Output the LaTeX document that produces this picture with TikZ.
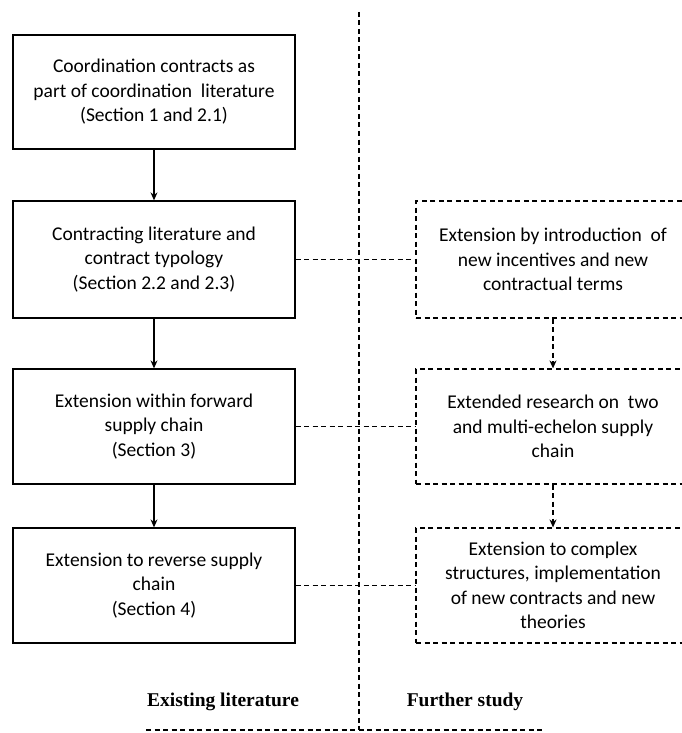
\documentclass[tikz,border=0pt]{standalone}
\usepackage{fontspec}
\setmainfont{Carlito}
\newfontfamily\labfont{Liberation Serif}
\usetikzlibrary{arrows.meta}
\begin{document}
\begin{tikzpicture}[x=1pt,y=-1pt,
  box/.style={draw, line width=1.3pt, minimum width=282pt, align=center,
    inner sep=0pt, font=\fontsize{19.5}{24.5}\selectfont},
  fbox/.style={draw, dashed, dash pattern=on 5pt off 3.5pt, line width=1.2pt,
    minimum width=274pt, align=center, inner sep=0pt,
    font=\fontsize{19.5}{24.5}\selectfont},
  arr/.style={-{Stealth[length=8pt,width=7pt]}, line width=1.1pt},
  darr/.style={-{Stealth[length=8pt,width=7pt]}, line width=1.2pt, dash pattern=on 5pt off 3.5pt},
  dline/.style={line width=1.2pt, dash pattern=on 5pt off 3.5pt},
  lab/.style={font=\labfont\bfseries\fontsize{19.5}{22}\selectfont}]
\clip (0,0) rectangle (682,733);
\fill[white] (0,0) rectangle (682,733);
\node[box, minimum height=114pt] (b1) at (154,92) {Coordination contracts as\\part of coordination\ \ literature\\(Section 1 and 2.1)};
\node[box, minimum height=117pt] (b2) at (154,259.5) {Contracting literature and\\contract typology\\(Section 2.2 and 2.3)};
\node[box, minimum height=115pt] (b3) at (154,426.5) {Extension within forward\\supply chain\\(Section 3)};
\node[box, minimum height=115pt] (b4) at (154,585.5) {Extension to reverse supply\\chain\\(Section 4)};
\node[fbox, minimum height=117pt] (r2) at (553,259.5) {Extension by introduction\ \ of\\new incentives and new\\contractual terms};
\node[fbox, minimum height=115pt] (r3) at (553,426.5) {Extended research on\ \ two\\and multi-echelon supply\\chain};
\node[fbox, minimum height=115pt] (r4) at (553,585.5) {Extension to complex\\structures, implementation\\of new contracts and new\\theories};
\draw[arr] (b1) -- (b2);
\draw[arr] (b2) -- (b3);
\draw[arr] (b3) -- (b4);
\draw[darr] (r2) -- (r3);
\draw[darr] (r3) -- (r4);
\draw[dline] (b2.east) -- (r2.west);
\draw[dline] (b3.east) -- (r3.west);
\draw[dline] (b4.east) -- (r4.west);
\coordinate (dtop) at (359,12);
\coordinate (dbot) at (359,730);
\coordinate (bl) at (146,730);
\coordinate (br) at (543,730);
\draw[dline] (dtop) -- (dbot);
\draw[dline] (bl) -- (br);
\node[lab] (l1) at (223,702) {Existing literature};
\node[lab] (l2) at (465,702) {Further study};
\end{tikzpicture}
\end{document}
